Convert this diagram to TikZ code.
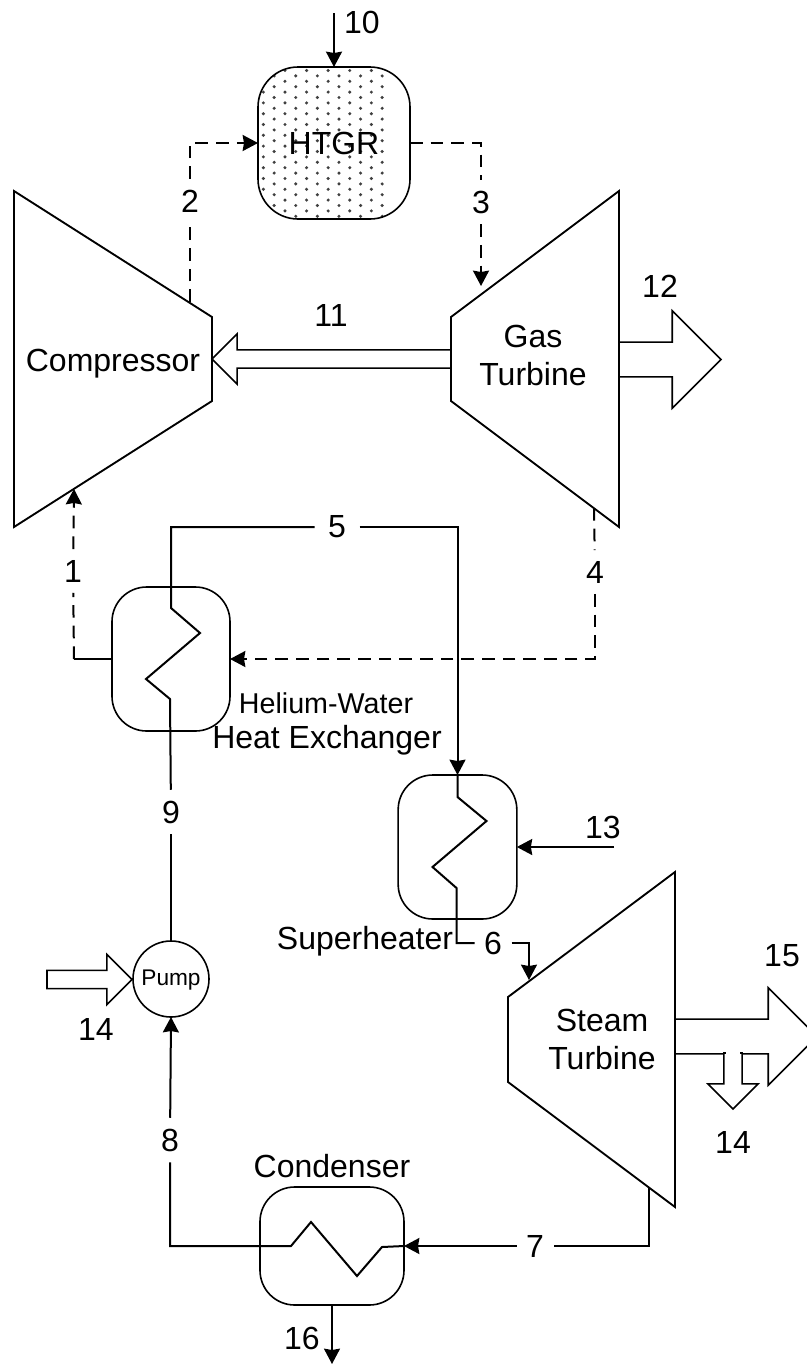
\documentclass[tikz,border=0pt]{standalone}
\usepackage{fontspec}
\setmainfont{Liberation Sans}
\usetikzlibrary{shapes.arrows, arrows.meta, positioning}

\begin{document}
\begin{tikzpicture}[
  x=0.75pt, y=-0.75pt,
  node distance=3mm,
  lbl/.style={font=\fontsize{24}{28}\selectfont, align=center, inner sep=0pt},
  num/.style={lbl, inner xsep=7pt, inner ysep=8pt},
  unit/.style={draw, line width=1.2pt, rounded corners=26pt, outer sep=0pt},
  solidline/.style={line width=1.5pt},
  arr/.style={solidline, -{Stealth[length=11.5pt, width=12pt, inset=1pt]}},
  gasline/.style={solidline, dash pattern=on 9.5pt off 6pt},
  gasarr/.style={arr, dash pattern=on 9.5pt off 6pt},
  casing/.style={draw, line width=1.4pt, line join=miter},
  thinarrow/.style={single arrow, anchor=tip, draw, fill=white, line width=1.2pt, inner xsep=0pt, inner ysep=6.2pt, outer sep=0pt, single arrow head extend=12pt, single arrow tip angle=90},
  widearrow/.style={thinarrow, inner ysep=12.4pt, single arrow head extend=23.6pt}
]
\path[use as bounding box, clip] (0,0) rectangle (807,1365);

\node[thinarrow, minimum height=179.25pt, shape border rotate=180] (shaft) at (212,359) {};
\node[widearrow, minimum height=76.5pt] (power) at (721,359.5) {};
\node[widearrow, minimum height=106.5pt] (steampower) at (817,1036.5) {};
\node[thinarrow, inner xsep=6.2pt, inner ysep=0pt, minimum height=42pt, shape border rotate=270] (pumpwork) at (733,1109) {};
\draw[white, line width=2pt, shorten >=1.2pt, shorten <=1.2pt] (pumpwork.after tail) -- (pumpwork.before tail);
\node[thinarrow, minimum height=63.75pt] (drive) at (132,979.5) {};

\draw[casing] (14,191) -- (212,317) -- (212,401) -- (14,527) -- cycle;
\draw[casing] (451,317) -- (619,191) -- (619,527) -- (451,401) -- cycle;
\draw[casing] (508,997) -- (675,872) -- (675,1207) -- (508,1082) -- cycle;

\node[lbl] (comp) at (113,364) {Compressor};
\node[lbl] (gasturb) at (533,355.5) {Gas\\Turbine};
\node[lbl] (steamturb) at (602,1039.5) {Steam\\Turbine};

\node[unit, rounded corners=30pt, minimum width=114pt, minimum height=114pt, lbl, draw, line width=1.2pt, path picture={
  \foreach \j in {-8,...,8} \foreach \k in {-8,...,8}
    \fill[black!75] ({10.8*\j+7.1},{10.8*\k-2.5+5.4*mod(\j+20,2)}) circle[radius=1.7];
}] (htgr) at (334,143) {HTGR};
\node[unit, minimum width=88.5pt, minimum height=108pt] (hx) at (171,659) {};
\node[unit, minimum width=89pt, minimum height=108pt] (sh) at (457.5,847) {};
\node[unit, minimum width=108pt, minimum height=88.5pt] (cond) at (332,1246) {};
\node[draw, circle, line width=1.2pt, minimum size=57pt, inner sep=0pt, outer sep=0pt, text height=10pt, text depth=0pt, font=\fontsize{17}{20}\selectfont] (pump) at (171,979) {Pump};

\node[lbl, above=6.5pt of cond] (condname) {Condenser};
\node[lbl] (shname) at (365,941) {Superheater};
\node[lbl] (hxname) at (327,740) {Heat Exchanger};
\node[lbl, font=\fontsize{21.5}{26}\selectfont] (hename) at (326,703) {Helium-Water};

\node[num] (n1) at (73,571) {1};
\node[num] (n2) at (190,201) {2};
\node[num] (n3) at (481,202) {3};
\node[num] (n4) at (595,572) {4};
\node[num, inner xsep=10pt] (n5) at (337,527) {5};
\node[num] (n6) at (493,943) {6};
\node[num] (n7) at (535,1246) {7};
\node[num] (n8) at (170,1140) {8};
\node[num] (n9) at (171,812) {9};
\node[lbl] (n10) at (362,22) {10};
\node[lbl] (n11) at (331,315) {11};
\node[lbl] (n12) at (660,286) {12};
\node[lbl] (n13) at (603,827) {13};
\node[lbl] (n14a) at (96,1029) {14};
\node[lbl] (n14b) at (733,1142) {14};
\node[lbl] (n15) at (782,956) {15};
\node[lbl] (n16) at (302,1338) {16};

\coordinate (fuel) at (334,13);
\coordinate (compin) at (74,489);
\coordinate (compout) at (190,302);
\coordinate (gasin) at (481,286);
\coordinate (gasout) at (594,508);
\coordinate (steamin) at (529,980);
\coordinate (steamout) at (649,1187);
\coordinate (reheat) at (614,847);
\coordinate (coolout) at (332,1364);
\coordinate (hxcorner) at (74,659);

\draw[arr] (fuel) -- (htgr.north);
\draw[gasline] (compout) -- (n2);
\draw[gasarr] (n2) |- (htgr.west);
\draw[gasline] (htgr.east) -| (n3);
\draw[gasarr] (n3) -- (gasin);
\draw[gasline] (gasout) -- (n4);
\draw[gasarr] (n4) |- (hx.east);
\draw[solidline] (hx.west) -- (hxcorner);
\draw[gasline] (hxcorner) -- (n1);
\draw[gasarr] (n1) -- (compin);

\draw[solidline] (n5) -| (hx.north) -- ++(0,21) -- ++(29,25) -- ++(-54,46) -- ++(24,20) -- (n9);
\draw[arr] (n5) -| (sh.north);
\draw[solidline] (sh.north) -- ++(0,22) -- ++(29,24) -- ++(-54,46) -- ++(24,21) -- ++(0,55) -- (n6);
\draw[arr] (n6) -| (steamin);
\draw[arr] (reheat) -- (sh.east);
\draw[solidline] (steamout) |- (n7);
\draw[arr] (n7) -- (cond.east);
\draw[solidline] (n8) |- (cond.west) -- ++(31,0) -- ++(20,-24) -- ++(46,54) -- ++(25,-29) -- (cond.east);
\draw[arr] (n8) -- (pump.south);
\draw[solidline] (n9) -- (pump.north);
\draw[arr] (cond.south) -- (coolout);
\end{tikzpicture}
\end{document}
